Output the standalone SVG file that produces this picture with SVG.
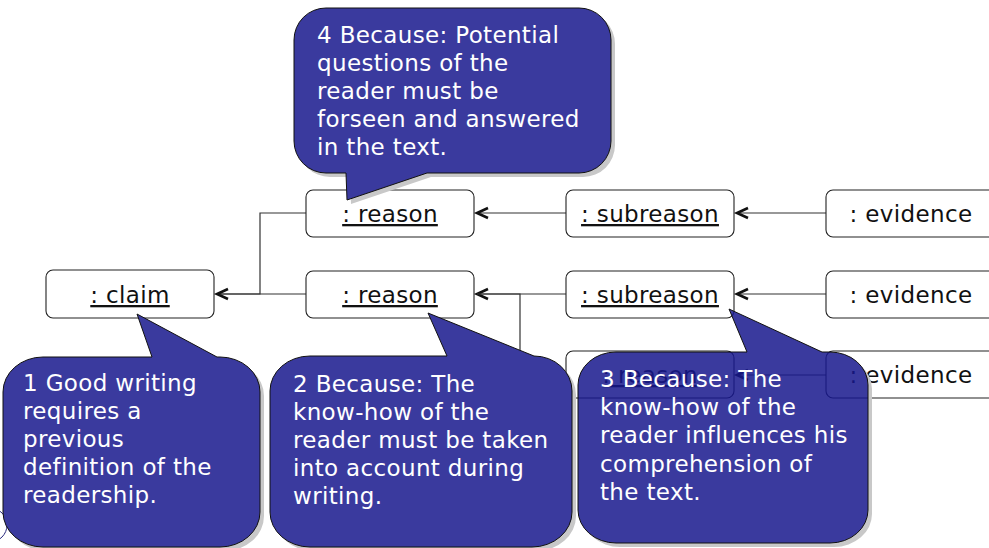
<svg xmlns="http://www.w3.org/2000/svg" xmlns:xlink="http://www.w3.org/1999/xlink" width="989" height="548" viewBox="0 0 989 548">
<style>
.box{fill:#fff;stroke:#222;stroke-width:1.1}
.lbl{font-family:"DejaVu Sans",Verdana,sans-serif;font-size:23px;fill:#111;text-anchor:middle;letter-spacing:0.35px}
.u{text-decoration:underline}
.edge{fill:none;stroke:#333;stroke-width:1.2}
.note{fill:#3a3a9e;stroke:#111;stroke-width:1}
.shadow{fill:#c8c8c8;stroke:none}
.nt{font-family:"DejaVu Sans",Verdana,sans-serif;font-size:23px;fill:#fff;letter-spacing:0.35px}
</style>
<defs>
<marker id="open" markerUnits="userSpaceOnUse" viewBox="-14 -8 16 16" markerWidth="16" markerHeight="16" refX="0" refY="0" orient="auto" overflow="visible">
<path d="M -11,-5 L 0,0 L -11,5" fill="none" stroke="#111" stroke-width="2.6"/>
</marker>
<path id="p1" d="M 43,357 H 152 L 137,314 L 217,357 H 220 A 40,35 0 0 1 260,392 V 512 A 40,35 0 0 1 220,547 H 43 A 40,35 0 0 1 3,512 V 392 A 40,35 0 0 1 43,357 Z"/>
<path id="p2" d="M 310,356 H 447 L 428,313 L 534,356 A 38,35 0 0 1 572,391 V 512 A 40,35 0 0 1 532,547 H 310 A 40,35 0 0 1 270,512 V 391 A 40,35 0 0 1 310,356 Z"/>
<path id="p3" d="M 616,352 H 747 L 729,309 L 822,352 H 830 A 38,33 0 0 1 868,385 V 510 A 38,33 0 0 1 830,543 H 616 A 38,33 0 0 1 578,510 V 385 A 38,33 0 0 1 616,352 Z"/>
<path id="p4" d="M 326,8 H 579 A 32,32 0 0 1 611,40 V 141 A 32,32 0 0 1 579,173 H 427 L 347,200 L 346,173 H 326 A 32,32 0 0 1 294,141 V 40 A 32,32 0 0 1 326,8 Z"/>
<mask id="m3" maskUnits="userSpaceOnUse" x="0" y="0" width="989" height="548">
<rect width="989" height="548" fill="#fff"/>
<use xlink:href="#p3" fill="#000"/>
</mask>
</defs>
<rect width="989" height="548" fill="#fff"/>

<g id="connectors">
<path class="edge" d="M 826,213 H 737" marker-end="url(#open)"/>
<path class="edge" d="M 566,213 H 477" marker-end="url(#open)"/>
<path class="edge" d="M 826,294 H 737" marker-end="url(#open)"/>
<path class="edge" d="M 566,294 H 477" marker-end="url(#open)"/>
<path class="edge" d="M 826,375 H 737" marker-end="url(#open)"/>
<path class="edge" d="M 566,375 H 520 V 294 H 477"/>
<path class="edge" d="M 306,213 H 260 V 294 H 217"/>
<path class="edge" d="M 306,294 H 217" marker-end="url(#open)"/>
</g>

<g id="claim"><rect class="box" x="46" y="270" width="168" height="48" rx="7"/><text class="lbl u" x="130" y="303">: claim</text></g>
<g id="reason1"><rect class="box" x="306" y="190" width="168" height="47" rx="7"/><text class="lbl u" x="390" y="222">: reason</text></g>
<g id="reason2"><rect class="box" x="306" y="271" width="168" height="47" rx="7"/><text class="lbl u" x="390" y="303">: reason</text></g>
<g id="subreason1"><rect class="box" x="566" y="190" width="168" height="47" rx="7"/><text class="lbl u" x="650" y="222">: subreason</text></g>
<g id="subreason2"><rect class="box" x="566" y="271" width="168" height="47" rx="7"/><text class="lbl u" x="650" y="303">: subreason</text></g>
<g id="reason3"><rect class="box" x="566" y="351" width="168" height="47" rx="7"/><text class="lbl u" x="650" y="383">: reason</text></g>
<g id="evidence1"><rect class="box" x="826" y="190" width="170" height="47" rx="7"/><text class="lbl" x="911" y="222">: evidence</text></g>
<g id="evidence2"><rect class="box" x="826" y="271" width="170" height="47" rx="7"/><text class="lbl" x="911" y="303">: evidence</text></g>
<g id="evidence3"><rect class="box" x="826" y="351" width="170" height="47" rx="7"/><text class="lbl" x="911" y="383">: evidence</text></g>

<circle cx="-10" cy="525" r="17" fill="none" stroke="#2a2a7e" stroke-width="1"/>

<g id="note1">
<use xlink:href="#p1" class="shadow" transform="translate(4,4)"/>
<use xlink:href="#p1" class="note"/>
<text class="nt" x="23"><tspan x="23" y="391">1 Good writing</tspan><tspan x="23" y="419">requires a</tspan><tspan x="23" y="447">previous</tspan><tspan x="23" y="475">definition of the</tspan><tspan x="23" y="503">readership.</tspan></text>
</g>
<g id="note2">
<use xlink:href="#p2" class="shadow" transform="translate(4,4)"/>
<use xlink:href="#p2" class="note"/>
<text class="nt" x="293"><tspan x="293" y="392">2 Because: The</tspan><tspan x="293" y="420">know-how of the</tspan><tspan x="293" y="448">reader must be taken</tspan><tspan x="293" y="476">into account during</tspan><tspan x="293" y="504">writing.</tspan></text>
</g>
<g id="note3">
<g mask="url(#m3)"><use xlink:href="#p3" class="shadow" transform="translate(4,4)"/></g>
<use xlink:href="#p3" fill="#17178d" fill-opacity="0.85" stroke="#111" stroke-width="1"/>
<text class="nt" x="600"><tspan x="600" y="387">3 Because: The</tspan><tspan x="600" y="415">know-how of the</tspan><tspan x="600" y="443">reader influences his</tspan><tspan x="600" y="472">comprehension of</tspan><tspan x="600" y="500">the text.</tspan></text>
</g>
<g id="note4">
<use xlink:href="#p4" class="shadow" transform="translate(4,4)"/>
<use xlink:href="#p4" class="note"/>
<text class="nt" x="317"><tspan x="317" y="43">4 Because: Potential</tspan><tspan x="317" y="71">questions of the</tspan><tspan x="317" y="99">reader must be</tspan><tspan x="317" y="127">forseen and answered</tspan><tspan x="317" y="155">in the text.</tspan></text>
</g>
</svg>
